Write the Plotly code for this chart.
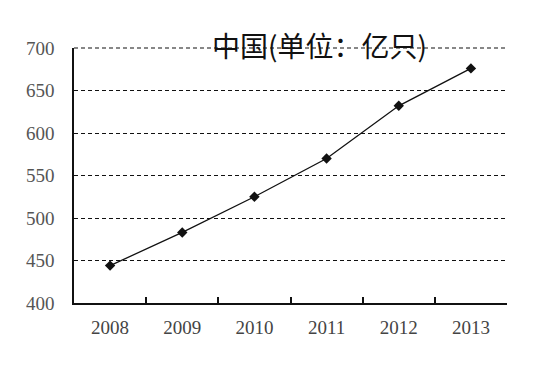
import plotly.graph_objects as go

years = ["2008", "2009", "2010", "2011", "2012", "2013"]
values = [444, 483, 525, 570, 632, 676]
y_ticks = [400, 450, 500, 550, 600, 650, 700]
title_text = "中国(单位：亿只)"

fig = go.Figure()
fig.add_trace(go.Scatter(
    x=years, y=values, mode="lines+markers",
    line=dict(color="#111111", width=1.3),
    marker=dict(symbol="diamond", size=8, color="#111111"),
    showlegend=False,
))

fig.update_layout(
    width=538, height=367,
    margin=dict(l=74, r=31, t=48, b=64),
    paper_bgcolor="white", plot_bgcolor="white",
    font=dict(family="Liberation Serif, DejaVu Serif, serif", size=19, color="#555555"),
)
fig.update_xaxes(
    type="category", tickson="boundaries", ticks="inside", ticklen=6,
    tickcolor="#111111", tickwidth=1.5,
    showline=True, linecolor="#111111", linewidth=1.5,
    showgrid=False, range=[-0.5, 5.5],
    tickfont=dict(size=19, color="#444444"), ticklabelstandoff=6,
)
fig.update_yaxes(
    range=[400, 700], tickvals=y_ticks, ticks="", ticklen=0,
    showline=True, linecolor="#111111", linewidth=1.5,
    showgrid=True, gridcolor="#111111", griddash="4px,3px", gridwidth=1.2,
    zeroline=False, tickfont=dict(size=19, color="#555555"),
    ticklabelstandoff=14,
)
# top gridline at the range edge (paper coords so it is not clipped)
fig.add_shape(type="line", xref="paper", yref="paper", x0=0, x1=1, y0=1, y1=1,
              line=dict(color="#111111", width=1.2, dash="4px,3px"), layer="below")
fig.add_annotation(
    text=title_text, xref="paper", yref="paper", x=0.568, y=1.01,
    xanchor="center", yanchor="middle", showarrow=False,
    font=dict(family="Noto Sans CJK SC", size=28, color="#111111"),
)
fig.write_html("out.html")
